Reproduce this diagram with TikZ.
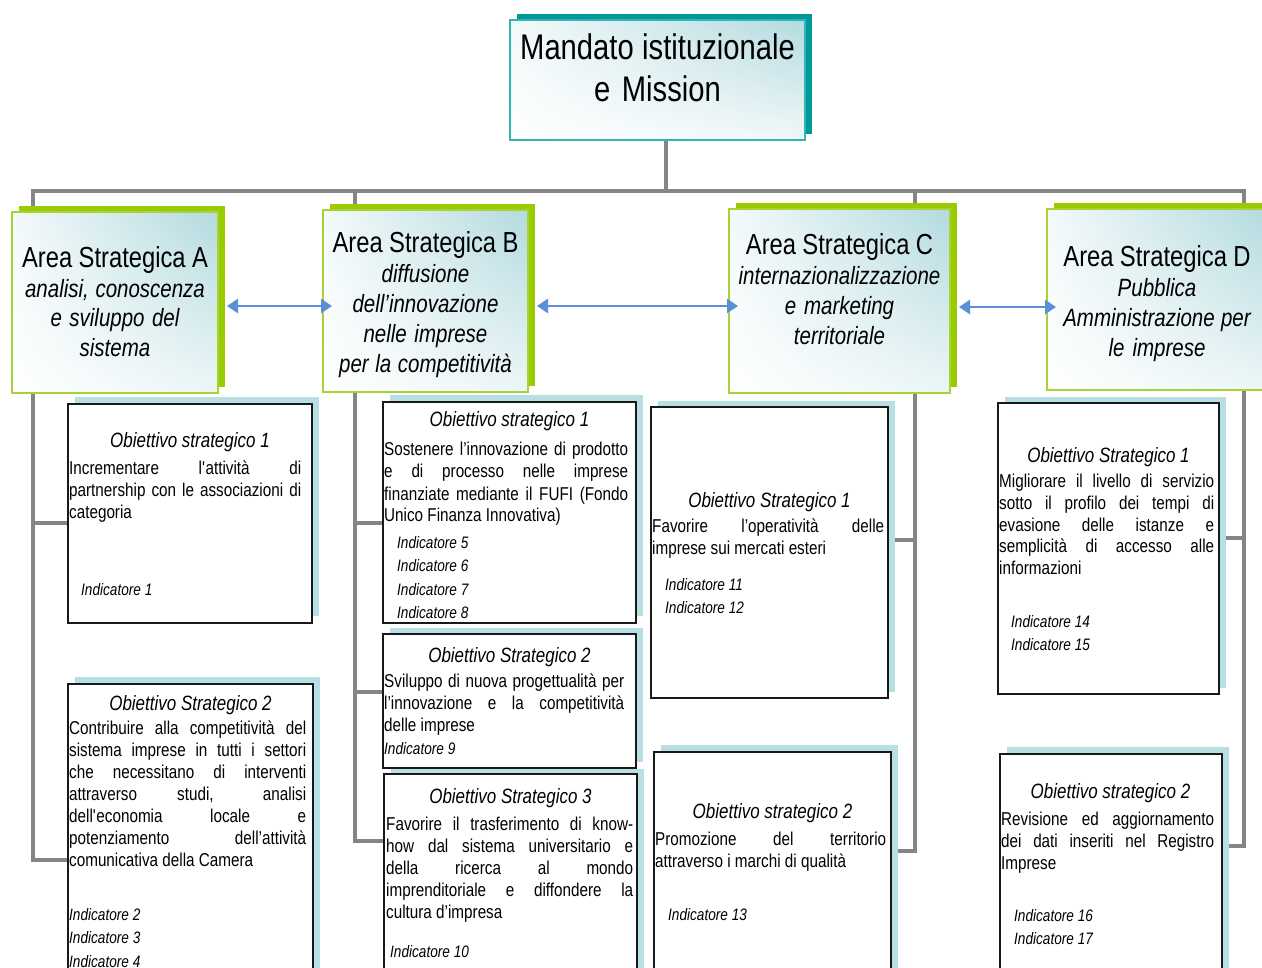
\documentclass[tikz,border=0pt]{standalone}
\usepackage{fontspec}
\setmainfont{Liberation Sans}[FakeStretch=0.82,WordSpace=0.8]
\usetikzlibrary{arrows.meta,shadings}
\pgfdeclarelayer{bg}
\pgfdeclarelayer{shad}
\pgfsetlayers{bg,shad,main}
\definecolor{tealdark}{HTML}{009999}
\definecolor{tealline}{HTML}{33B5B5}
\definecolor{gradteal}{HTML}{B3DADF}
\definecolor{greenshad}{HTML}{99CC00}
\definecolor{greenline}{HTML}{A8D334}
\definecolor{objshad}{HTML}{B8DFE3}
\definecolor{conncol}{HTML}{858585}
\definecolor{arrowblue}{HTML}{5B8FD6}
\newcommand\jw{200pt}
\newcommand\jl[1]{\leavevmode\hbox to \jw{\spaceskip=0.22em plus 1fil\relax #1}}
\newcommand\boxshadow[3]{%
  \begin{pgfonlayer}{shad}\fill[#1] ([shift={(7,#3)}]#2.north west) rectangle ([shift={(7,#3)}]#2.south east);\end{pgfonlayer}}
\tikzset{
  tight/.style={execute at begin node={\spaceskip=0.23em plus 0.08em minus 0.04em\relax}},
  topbox/.style={draw=tealline, line width=1.5pt, inner sep=0pt, outer sep=0pt, anchor=north west,
    upper left=gradteal!15!white, upper right=gradteal, lower left=white, lower right=gradteal!20!white},
  areabox/.style={draw=greenline, line width=1.8pt, inner sep=0pt, outer sep=0pt, anchor=north west,
    upper left=gradteal!15!white, upper right=gradteal, lower left=white, lower right=gradteal!25!white},
  objbox/.style={draw=black!90, line width=1.3pt, fill=white, inner sep=0pt, outer sep=0pt, anchor=north west},
  toptext/.style={tight, anchor=base, inner sep=0pt, text width=290pt, align=center, font=\fontsize{35.6}{42}\selectfont},
  areatext/.style={tight, anchor=base, inner sep=0pt, text width=216pt, align=center, font=\fontsize{25}{#1}\selectfont\itshape},
  ttl/.style={tight, anchor=base, inner sep=0pt, font=\fontsize{20.7}{24}\selectfont\itshape},
  bod/.style={anchor=base west, inner sep=0pt, text width=#1, align=left, font=\fontsize{18.6}{22}\selectfont,
    execute at begin node={\renewcommand\jw{#1}\spaceskip=0.23em plus 0.08em minus 0.04em\relax}},
  ind/.style={tight, anchor=base west, inner sep=0pt, text width=150pt, align=left, font=\fontsize{16.6}{23.5}\selectfont\itshape},
  conn/.style={draw=conncol, line width=4pt, line join=miter, line cap=rect},
  arr/.style={draw=arrowblue, line width=2.8pt, {Triangle[width=14pt,length=11pt]}-{Triangle[width=14pt,length=11pt]}}
}
\begin{document}
\begin{tikzpicture}[x=1pt,y=-1pt]
\clip (0,0) rectangle (1262,968);
\begin{pgfonlayer}{bg}
\fill[white] (0,0) rectangle (1262,968);
\end{pgfonlayer}

% top box
\node[topbox, minimum width=295pt, minimum height=120pt] (top) at (510,20) {};
\boxshadow{tealdark}{top}{-6}
\node[toptext] (topt) at (657.5,60) {Mandato istituzionale\\e Mission};

% area boxes
\node[areabox, minimum width=206pt, minimum height=181pt] (A) at (12,212) {};
\boxshadow{greenshad}{A}{-6}
\node[areabox, minimum width=205pt, minimum height=182pt] (B) at (323,210) {};
\boxshadow{greenshad}{B}{-6}
\node[areabox, minimum width=221pt, minimum height=184pt] (C) at (729,209) {};
\boxshadow{greenshad}{C}{-6}
\node[areabox, minimum width=220pt, minimum height=181pt] (D) at (1047,209) {};
\boxshadow{greenshad}{D}{-6}

\node[areatext=29.5] (At) at (115,268) {{\fontsize{29}{29.5}\selectfont\upshape Area Strategica A}\\analisi, conoscenza\\e sviluppo del\\sistema};
\node[areatext=30] (Bt) at (425.5,253) {{\fontsize{29}{30}\selectfont\upshape Area Strategica B}\\diffusione\\dell’innovazione\\nelle imprese\\per la competitività};
\node[areatext=30] (Ct) at (839.5,255) {{\fontsize{29}{30}\selectfont\upshape Area Strategica C}\\internazionalizzazione\\e marketing\\territoriale};
\node[areatext=30] (Dt) at (1157,267) {{\fontsize{29}{30}\selectfont\upshape Area Strategica D}\\Pubblica\\Amministrazione per\\le imprese};

% arrows
\draw[arr] ([shift={(9,3.5)}]A.east) -- ([shift={(9,3.5)}]A.east -| B.west);
\draw[arr] ([shift={(9,5)}]B.east) -- ([shift={(9,5)}]B.east -| C.west);
\draw[arr] ([shift={(9,6)}]C.east) -- ([shift={(9,6)}]C.east -| D.west);

% objective boxes
\node[objbox, minimum width=244pt, minimum height=219pt] (A1) at (68,404) {};
\boxshadow{objshad}{A1}{-7}
\node[objbox, minimum width=245pt, minimum height=320pt] (A2) at (68,684) {};
\boxshadow{objshad}{A2}{-7}
\node[objbox, minimum width=253pt, minimum height=221pt] (B1) at (383,402) {};
\boxshadow{objshad}{B1}{-7}
\node[objbox, minimum width=253pt, minimum height=134pt] (B2) at (383,634) {};
\boxshadow{objshad}{B2}{-6}
\node[objbox, minimum width=253pt, minimum height=230pt] (B3) at (384,774) {};
\boxshadow{objshad}{B3}{-5}
\node[objbox, minimum width=237pt, minimum height=291pt] (C1) at (651,407) {};
\boxshadow{objshad}{C1}{-6}
\node[objbox, minimum width=237pt, minimum height=250pt] (C2) at (654,752) {};
\boxshadow{objshad}{C2}{-7}
\node[objbox, minimum width=221pt, minimum height=291pt] (D1) at (998,403) {};
\boxshadow{objshad}{D1}{-6}
\node[objbox, minimum width=222pt, minimum height=250pt] (D2) at (1000,754) {};
\boxshadow{objshad}{D2}{-7}

% A1
\node[ttl] (A1t) at (190,447) {Obiettivo strategico 1};
\node[bod=232pt] (A1b) at (69,475) {\jl{Incrementare l\textquotesingle attività di}\\\jl{partnership con le associazioni di}\\categoria};
\node[ind] (A1i) at (81,595) {Indicatore 1};
% A2
\node[ttl] (A2t) at (190.5,710) {Obiettivo Strategico 2};
\node[bod=237pt] (A2b) at (69,734) {\jl{Contribuire alla competitività del}\\\jl{sistema imprese in tutti i settori}\\\jl{che necessitano di interventi}\\\jl{attraverso studi, analisi}\\\jl{dell\textquotesingle economia locale e}\\\jl{potenziamento dell’attività}\\comunicativa della Camera};
\node[ind] (A2i) at (69,920) {Indicatore 2\\Indicatore 3\\Indicatore 4};
% B1
\node[ttl] (B1t) at (509.5,427) {Obiettivo strategico 1};
\node[bod=244pt] (B1b) at (384,456) {\jl{Sostenere l’innovazione di prodotto}\\\jl{e di processo nelle imprese}\\\jl{finanziate mediante il FUFI (Fondo}\\Unico Finanza Innovativa)};
\node[ind] (B1i) at (397,548) {Indicatore 5\\Indicatore 6\\Indicatore 7\\Indicatore 8};
% B2
\node[ttl] (B2t) at (509.5,662) {Obiettivo Strategico 2};
\node[bod=240pt] (B2b) at (384,687) {\jl{Sviluppo di nuova progettualità per}\\\jl{l’innovazione e la competitività}\\delle imprese};
\node[ind] (B2i) at (384,754) {Indicatore 9};
% B3
\node[ttl] (B3t) at (510.5,803) {Obiettivo Strategico 3};
\node[bod=247pt] (B3b) at (386,830) {\jl{Favorire il trasferimento di know-}\\\jl{how dal sistema universitario e}\\\jl{della ricerca al mondo}\\\jl{imprenditoriale e diffondere la}\\cultura d’impresa};
\node[ind] (B3i) at (390,957) {Indicatore 10};
% C1
\node[ttl] (C1t) at (769.5,507) {Obiettivo Strategico 1};
\node[bod=232pt] (C1b) at (652,532) {\jl{Favorire l’operatività delle}\\imprese sui mercati esteri};
\node[ind] (C1i) at (665,590) {Indicatore 11\\Indicatore 12};
% C2
\node[ttl] (C2t) at (772.5,818) {Obiettivo strategico 2};
\node[bod=231pt] (C2b) at (655,845) {\jl{Promozione del territorio}\\attraverso i marchi di qualità};
\node[ind] (C2i) at (668,920) {Indicatore 13};
% D1
\node[ttl] (D1t) at (1108.5,462) {Obiettivo Strategico 1};
\node[bod=215pt] (D1b) at (999,487) {\jl{Migliorare il livello di servizio}\\\jl{sotto il profilo dei tempi di}\\\jl{evasione delle istanze e}\\\jl{semplicità di accesso alle}\\informazioni};
\node[ind] (D1i) at (1011,627) {Indicatore 14\\Indicatore 15};
% D2
\node[ttl] (D2t) at (1110.5,798) {Obiettivo strategico 2};
\node[bod=213pt] (D2b) at (1001,825) {\jl{Revisione ed aggiornamento}\\\jl{dei dati inseriti nel Registro}\\Imprese};
\node[ind] (D2i) at (1014,921) {Indicatore 16\\Indicatore 17};

% connectors
\coordinate (busA) at (33,191);
\coordinate (busB) at (355,191);
\coordinate (busT) at (666,191);
\coordinate (busC) at (915,191);
\coordinate (busD) at (1244,191);
\coordinate (jA1) at (33,523);
\coordinate (jA2) at (33,860);
\coordinate (jB1) at (355,523);
\coordinate (jB2) at (355,692);
\coordinate (jB3) at (355,841);
\coordinate (jC1) at (915,540);
\coordinate (jC2) at (915,851);
\coordinate (jD1) at (1244,538);
\coordinate (jD2) at (1244,846);
\begin{pgfonlayer}{bg}
\draw[conn] (A2.west |- jA2) -- (jA2) -- (busA) -- (busD) -- (jD2) -- (D2.east |- jD2);
\draw[conn] (top.south -| busT) -- (busT);
\draw[conn] (busB) -- (jB3) -- (B3.west |- jB3);
\draw[conn] (busC) -- (jC2) -- (C2.east |- jC2);
\draw[conn] (jA1) -- (A1.west |- jA1);
\draw[conn] (jB1) -- (B1.west |- jB1);
\draw[conn] (jB2) -- (B2.west |- jB2);
\draw[conn] (jC1) -- (C1.east |- jC1);
\draw[conn] (jD1) -- (D1.east |- jD1);
\end{pgfonlayer}
\end{tikzpicture}
\end{document}
